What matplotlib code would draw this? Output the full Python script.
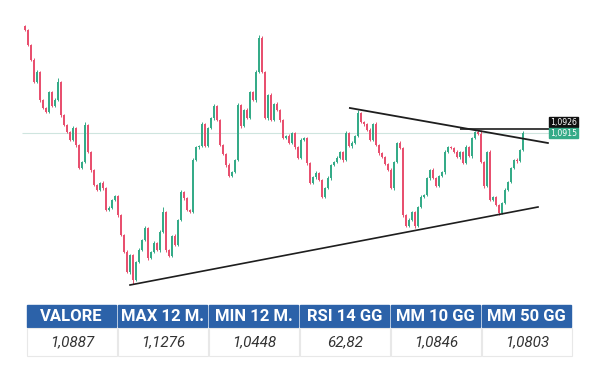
import matplotlib.pyplot as plt
from matplotlib.patches import Rectangle
import numpy as np

# daily closes
closes = [
    1.1224, 1.1179, 1.1134, 1.1068, 1.1098, 1.1014, 1.0990, 1.0978, 1.1038, 1.0996,
    1.1014, 1.1068, 1.0969, 1.0939, 1.0918, 1.0894, 1.0930, 1.0879, 1.0810, 1.0828,
    1.0939, 1.0858, 1.0804, 1.0759, 1.0744, 1.0765, 1.0750, 1.0684, 1.0690, 1.0714,
    1.0726, 1.0669, 1.0609, 1.0558, 1.0498, 1.0549, 1.0474, 1.0528, 1.0564, 1.0594,
    1.0630, 1.0540, 1.0558, 1.0585, 1.0564, 1.0618, 1.0678, 1.0564, 1.0546, 1.0606,
    1.0579, 1.0654, 1.0738, 1.0720, 1.0684, 1.0678, 1.0834, 1.0873, 1.0876, 1.0942,
    1.0876, 1.0930, 1.0960, 1.0996, 1.0954, 1.0879, 1.0852, 1.0819, 1.0786, 1.0798,
    1.0834, 1.0999, 1.0936, 1.0984, 1.0960, 1.1038, 1.1014, 1.1098, 1.1200, 1.1098,
    1.0960, 1.1029, 1.0954, 1.1002, 1.0984, 1.0954, 1.0900, 1.0906, 1.0885, 1.0915,
    1.0873, 1.0840, 1.0894, 1.0900, 1.0825, 1.0765, 1.0783, 1.0795, 1.0774, 1.0723,
    1.0750, 1.0780, 1.0819, 1.0828, 1.0840, 1.0858, 1.0834, 1.0915, 1.0876, 1.0885,
    1.0906, 1.0975, 1.0948, 1.0942, 1.0924, 1.0894, 1.0942, 1.0879, 1.0855, 1.0843,
    1.0822, 1.0804, 1.0750, 1.0828, 1.0885, 1.0870, 1.0669, 1.0636, 1.0654, 1.0678,
    1.0636, 1.0693, 1.0723, 1.0729, 1.0780, 1.0804, 1.0780, 1.0756, 1.0786, 1.0798,
    1.0858, 1.0873, 1.0870, 1.0858, 1.0843, 1.0858, 1.0825, 1.0873, 1.0846, 1.0900,
    1.0918, 1.0912, 1.0828, 1.0756, 1.0858, 1.0714, 1.0723, 1.0699, 1.0675, 1.0705,
    1.0744, 1.0768, 1.0810, 1.0834, 1.0831, 1.0864, 1.0915,
]
first_open = 1.1236

# wick lengths above / below the body, in 0.0001
wick_up = [
    4, 3, 2, 5, 6, 2, 3, 2, 4, 3,
    5, 12, 2, 3, 4, 2, 5, 3, 2, 4,
    9, 3, 2, 4, 3, 2, 5, 3, 6, 4,
    3, 2, 4, 3, 5, 2, 3, 4, 6, 3,
    5, 2, 4, 6, 3, 5, 15, 2, 3, 4,
    5, 3, 7, 4, 2, 3, 5, 4, 3, 6,
    2, 4, 3, 5, 2, 3, 4, 3, 5, 2,
    3, 6, 4, 3, 5, 3, 4, 6, 9, 5,
    3, 2, 5, 4, 6, 3, 4, 2, 5, 3,
    4, 3, 6, 2, 3, 4, 3, 5, 2, 4,
    3, 5, 4, 3, 6, 2, 4, 6, 3, 5,
    3, 8, 4, 3, 2, 5, 3, 6, 2, 4,
    3, 2, 5, 4, 3, 6, 4, 3, 5, 2,
    4, 3, 5, 3, 4, 2, 6, 3, 4, 3,
    5, 2, 4, 3, 6, 3, 4, 5, 3, 4,
    2, 5, 12, 4, 3, 6, 2, 4, 3, 3,
    5, 2, 4, 3, 5, 2, 6,
]
wick_dn = [
    3, 4, 2, 3, 2, 5, 3, 4, 2, 3,
    4, 2, 5, 3, 2, 4, 3, 5, 3, 2,
    4, 3, 5, 2, 4, 3, 6, 2, 3, 4,
    2, 5, 3, 4, 2, 6, 12, 3, 4, 2,
    3, 5, 2, 4, 3, 6, 2, 5, 3, 4,
    2, 3, 4, 5, 3, 2, 4, 3, 5, 2,
    4, 3, 2, 5, 3, 4, 2, 6, 3, 4,
    3, 2, 5, 3, 4, 2, 3, 5, 2, 4,
    3, 6, 2, 4, 3, 5, 2, 3, 4, 2,
    5, 3, 2, 4, 6, 3, 2, 5, 3, 4,
    2, 3, 5, 2, 4, 3, 6, 2, 3, 5,
    4, 2, 3, 5, 2, 4, 3, 2, 5, 3,
    4, 3, 2, 5, 3, 4, 6, 2, 3, 4,
    5, 2, 3, 4, 2, 5, 3, 4, 2, 3,
    6, 3, 2, 4, 3, 5, 2, 3, 4, 6,
    3, 2, 4, 5, 3, 2, 4, 3, 6, 2,
    3, 4, 2, 3, 5, 2, 4,
]

last_price = 1.0915
resistance = 1.0926
# trendlines as (candle index, price)
support_line = [(35, 1.0459), (171, 1.0693)]
upper_line = [(108.3, 1.0990), (174.3, 1.0885)]

headers = ["VALORE", "MAX 12 M.", "MIN 12 M.", "RSI 14 GG", "MM 10 GG", "MM 50 GG"]
values = ["1,0887", "1,1276", "1,0448", "62,82", "1,0846", "1,0803"]

UP = "#35ab88"
DOWN = "#e8506f"
BLUE = "#2c62a9"

closes = np.array(closes)
opens = np.concatenate([[first_open], closes[:-1]])
highs = np.maximum(opens, closes) + np.array(wick_up) * 1e-4
lows = np.minimum(opens, closes) - np.array(wick_dn) * 1e-4
idx = np.arange(len(closes))
colors = np.where(closes >= opens, UP, DOWN)

fig = plt.figure(figsize=(5.93, 3.76), dpi=100)
ax = fig.add_axes([0, 0, 1, 1])
ax.set_xlim(-25 / 3, 568 / 3)
ax.set_ylim(1.0186, 1.1314)
ax.axis("off")

# current price line
ax.hlines(last_price, -1, 174.7, color="#cfe5df", lw=0.8, zorder=1)

ax.vlines(idx, lows, highs, colors=colors, lw=0.7, zorder=2)
body = np.maximum(np.abs(closes - opens), 0.0002)
ax.bar(idx, body, bottom=np.minimum(opens, closes), width=0.7,
       color=colors, linewidth=0, zorder=3)

(x0, y0), (x1, y1) = support_line
ax.plot([x0, x1], [y0, y1], color="#1e1e1e", lw=1.2, zorder=4)
(x0, y0), (x1, y1) = upper_line
ax.plot([x0, x1], [y0, y1], color="#1e1e1e", lw=1.3, zorder=4)
ax.hlines(resistance, 145, 174.7, color="#1e1e1e", lw=1.2, zorder=4)

# price tags on the right
bx, bw = 174.7, 9.6
ax.add_patch(Rectangle((bx, 1.0933), bw, 0.0031, color="#111111", zorder=5))
ax.text(bx + 0.5, 1.0948, "1,0926", color="white", fontsize=5.6,
        va="center", ha="left", zorder=6)
ax.add_patch(Rectangle((bx, 1.0900), bw, 0.0031, color=UP, zorder=5))
ax.text(bx + 0.5, 1.0915, "1,0915", color="white", fontsize=5.6,
        va="center", ha="left", zorder=6)

# table below the chart, in pixel coordinates
tab = fig.add_axes([0, 0, 1, 1], facecolor="none")
tab.set_xlim(0, 593)
tab.set_ylim(376, 0)
tab.axis("off")

col_w = 91
left = 27
for i, (h, v) in enumerate(zip(headers, values)):
    cx = left + i * col_w
    tab.add_patch(Rectangle((cx, 305), col_w - 2, 22, color=BLUE))
    tab.text(cx + (col_w - 2) / 2, 316.5, h, color="white", fontsize=12,
             fontweight="bold", family="Roboto", ha="center", va="center")
    tab.add_patch(Rectangle((cx, 328), col_w - 1, 28, facecolor="white",
                            edgecolor="#e8e8e8", lw=0.8))
    tab.text(cx + (col_w - 1) / 2, 342, v, color="#333333", fontsize=11,
             fontstyle="italic", family="Roboto",
             ha="center", va="center")

fig.savefig("out.png", dpi=100)
